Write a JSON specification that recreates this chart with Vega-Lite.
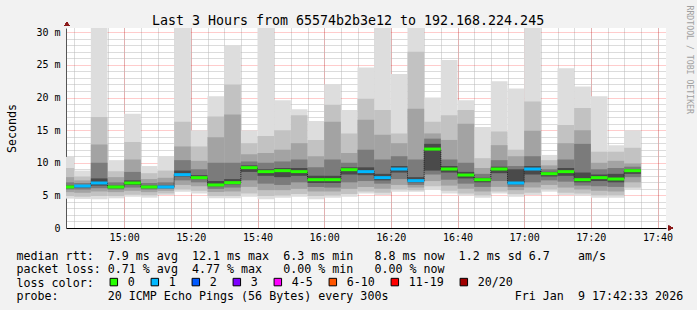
{
  "$schema": "https://vega.github.io/schema/vega-lite/v6.json",
  "width": 600,
  "height": 200,
  "autosize": {"type": "none"},
  "padding": {"left": 66, "top": 28, "right": 31, "bottom": 82},
  "background": "#f2f2f2",
  "data": {"values": [
    {"t":"2026-01-09T14:40:00Z","e":"2026-01-09T14:45:00Z","med":6.29,"loss":"0","a0":4.5,"a1":4.9,"a2":5.5,"a3":5.9,"a4":6.1,"b4":6.5,"b3":7.0,"b2":7.8,"b1":9.2,"b0":10.9},
    {"t":"2026-01-09T14:45:00Z","e":"2026-01-09T14:50:00Z","med":6.44,"loss":"1","a0":4.45,"a1":4.8,"a2":5.4,"a3":5.9,"a4":6.2,"b4":6.6,"b3":6.9,"b2":7.3,"b1":7.9,"b0":8.8},
    {"t":"2026-01-09T14:50:00Z","e":"2026-01-09T14:55:00Z","med":6.9,"loss":"1","a0":4.4,"a1":4.9,"a2":5.6,"a3":6.1,"a4":6.5,"b4":7.6,"b3":10.0,"b2":12.8,"b1":17.0,"b0":32},
    {"t":"2026-01-09T14:55:00Z","e":"2026-01-09T15:00:00Z","med":6.29,"loss":"0","a0":4.55,"a1":4.9,"a2":5.5,"a3":5.9,"a4":6.1,"b4":6.5,"b3":7.0,"b2":7.8,"b1":8.7,"b0":10.4},
    {"t":"2026-01-09T15:00:00Z","e":"2026-01-09T15:05:00Z","med":6.9,"loss":"0","a0":4.8,"a1":5.1,"a2":5.7,"a3":6.2,"a4":6.6,"b4":7.3,"b3":8.6,"b2":10.5,"b1":13.2,"b0":17.5},
    {"t":"2026-01-09T15:05:00Z","e":"2026-01-09T15:10:00Z","med":6.29,"loss":"0","a0":4.65,"a1":5.0,"a2":5.5,"a3":5.9,"a4":6.1,"b4":6.5,"b3":6.9,"b2":7.5,"b1":8.4,"b0":9.5},
    {"t":"2026-01-09T15:10:00Z","e":"2026-01-09T15:15:00Z","med":6.29,"loss":"1","a0":5.06,"a1":5.3,"a2":5.7,"a3":6.0,"a4":6.15,"b4":6.5,"b3":7.0,"b2":7.7,"b1":8.8,"b0":11.0},
    {"t":"2026-01-09T15:15:00Z","e":"2026-01-09T15:20:00Z","med":8.18,"loss":"1","a0":5.57,"a1":5.9,"a2":6.6,"a3":7.3,"a4":7.9,"b4":8.8,"b3":10.4,"b2":12.5,"b1":16.3,"b0":32},
    {"t":"2026-01-09T15:20:00Z","e":"2026-01-09T15:25:00Z","med":7.72,"loss":"0","a0":5.3,"a1":5.7,"a2":6.4,"a3":7.0,"a4":7.5,"b4":8.1,"b3":9.0,"b2":10.3,"b1":12.5,"b0":15.0},
    {"t":"2026-01-09T15:25:00Z","e":"2026-01-09T15:30:00Z","med":6.6,"loss":"0","a0":4.55,"a1":4.9,"a2":5.5,"a3":6.0,"a4":6.4,"b4":7.2,"b3":10.0,"b2":13.9,"b1":17.1,"b0":20.2},
    {"t":"2026-01-09T15:30:00Z","e":"2026-01-09T15:35:00Z","med":6.95,"loss":"0","a0":4.55,"a1":4.9,"a2":5.6,"a3":6.2,"a4":6.7,"b4":7.5,"b3":10.0,"b2":17.4,"b1":22.0,"b0":27.95},
    {"t":"2026-01-09T15:35:00Z","e":"2026-01-09T15:40:00Z","med":9.25,"loss":"0","a0":4.8,"a1":5.3,"a2":6.3,"a3":7.3,"a4":8.6,"b4":9.6,"b3":10.2,"b2":11.3,"b1":13.0,"b0":15.0},
    {"t":"2026-01-09T15:40:00Z","e":"2026-01-09T15:45:00Z","med":8.64,"loss":"0","a0":4.4,"a1":4.9,"a2":5.8,"a3":6.8,"a4":8.0,"b4":9.0,"b3":10.0,"b2":11.5,"b1":14.1,"b0":32},
    {"t":"2026-01-09T15:45:00Z","e":"2026-01-09T15:50:00Z","med":8.79,"loss":"0","a0":4.65,"a1":5.0,"a2":5.8,"a3":6.6,"a4":7.8,"b4":9.2,"b3":10.2,"b2":12.0,"b1":15.0,"b0":19.6},
    {"t":"2026-01-09T15:50:00Z","e":"2026-01-09T15:55:00Z","med":8.64,"loss":"0","a0":4.8,"a1":5.2,"a2":6.0,"a3":7.0,"a4":8.0,"b4":9.2,"b3":10.5,"b2":13.0,"b1":17.3,"b0":18.2},
    {"t":"2026-01-09T15:55:00Z","e":"2026-01-09T16:00:00Z","med":7.41,"loss":"0","a0":4.4,"a1":4.9,"a2":5.6,"a3":6.3,"a4":6.9,"b4":8.0,"b3":9.3,"b2":11.0,"b1":13.5,"b0":16.4},
    {"t":"2026-01-09T16:00:00Z","e":"2026-01-09T16:05:00Z","med":7.41,"loss":"0","a0":4.65,"a1":5.0,"a2":5.6,"a3":6.2,"a4":6.9,"b4":8.0,"b3":10.5,"b2":16.3,"b1":18.9,"b0":22.0},
    {"t":"2026-01-09T16:05:00Z","e":"2026-01-09T16:10:00Z","med":8.94,"loss":"0","a0":4.8,"a1":5.2,"a2":6.0,"a3":7.0,"a4":8.2,"b4":9.3,"b3":10.0,"b2":11.5,"b1":14.5,"b0":18.1},
    {"t":"2026-01-09T16:10:00Z","e":"2026-01-09T16:15:00Z","med":8.64,"loss":"1","a0":5.3,"a1":5.6,"a2":6.3,"a3":7.2,"a4":8.1,"b4":9.3,"b3":12.0,"b2":16.6,"b1":19.8,"b0":24.6},
    {"t":"2026-01-09T16:15:00Z","e":"2026-01-09T16:20:00Z","med":7.72,"loss":"1","a0":5.06,"a1":5.4,"a2":6.0,"a3":6.8,"a4":7.3,"b4":8.3,"b3":10.5,"b2":14.3,"b1":18.1,"b0":32},
    {"t":"2026-01-09T16:20:00Z","e":"2026-01-09T16:25:00Z","med":9.04,"loss":"1","a0":5.57,"a1":5.9,"a2":6.6,"a3":7.5,"a4":8.5,"b4":9.5,"b3":11.0,"b2":13.0,"b1":14.5,"b0":23.6},
    {"t":"2026-01-09T16:25:00Z","e":"2026-01-09T16:30:00Z","med":7.26,"loss":"1","a0":5.57,"a1":5.8,"a2":6.2,"a3":6.6,"a4":7.0,"b4":7.8,"b3":10.5,"b2":18.3,"b1":27.0,"b0":32},
    {"t":"2026-01-09T16:30:00Z","e":"2026-01-09T16:35:00Z","med":12.1,"loss":"0","a0":5.93,"a1":6.4,"a2":7.2,"a3":8.2,"a4":8.8,"b4":12.9,"b3":13.7,"b2":14.5,"b1":16.3,"b0":20.0},
    {"t":"2026-01-09T16:35:00Z","e":"2026-01-09T16:40:00Z","med":9.04,"loss":"0","a0":5.3,"a1":5.7,"a2":6.5,"a3":7.4,"a4":8.5,"b4":9.5,"b3":10.5,"b2":13.5,"b1":17.3,"b0":25.75},
    {"t":"2026-01-09T16:40:00Z","e":"2026-01-09T16:45:00Z","med":8.12,"loss":"0","a0":4.96,"a1":5.3,"a2":6.0,"a3":6.8,"a4":7.6,"b4":8.6,"b3":10.0,"b2":16.0,"b1":18.1,"b0":19.6},
    {"t":"2026-01-09T16:45:00Z","e":"2026-01-09T16:50:00Z","med":7.41,"loss":"0","a0":4.65,"a1":5.0,"a2":5.6,"a3":6.3,"a4":7.0,"b4":7.7,"b3":8.3,"b2":9.2,"b1":10.7,"b0":15.5},
    {"t":"2026-01-09T16:50:00Z","e":"2026-01-09T16:55:00Z","med":9.04,"loss":"0","a0":5.3,"a1":5.6,"a2":6.3,"a3":7.2,"a4":8.4,"b4":9.4,"b3":10.4,"b2":12.7,"b1":14.8,"b0":22.5},
    {"t":"2026-01-09T16:55:00Z","e":"2026-01-09T17:00:00Z","med":6.9,"loss":"1","a0":4.8,"a1":5.2,"a2":5.8,"a3":6.3,"a4":6.7,"b4":9.0,"b3":9.5,"b2":11.0,"b1":12.0,"b0":21.4},
    {"t":"2026-01-09T17:00:00Z","e":"2026-01-09T17:05:00Z","med":9.04,"loss":"1","a0":5.06,"a1":5.4,"a2":6.2,"a3":7.0,"a4":8.2,"b4":9.5,"b3":11.0,"b2":14.9,"b1":19.4,"b0":32},
    {"t":"2026-01-09T17:05:00Z","e":"2026-01-09T17:10:00Z","med":8.33,"loss":"0","a0":5.57,"a1":5.9,"a2":6.6,"a3":7.3,"a4":7.9,"b4":8.6,"b3":9.0,"b2":9.6,"b1":10.4,"b0":11.2},
    {"t":"2026-01-09T17:10:00Z","e":"2026-01-09T17:15:00Z","med":8.64,"loss":"0","a0":5.06,"a1":5.4,"a2":6.2,"a3":7.1,"a4":8.0,"b4":9.2,"b3":10.5,"b2":13.0,"b1":15.8,"b0":24.5},
    {"t":"2026-01-09T17:15:00Z","e":"2026-01-09T17:20:00Z","med":7.41,"loss":"0","a0":4.96,"a1":5.3,"a2":5.9,"a3":6.5,"a4":7.0,"b4":8.5,"b3":12.9,"b2":15.0,"b1":18.4,"b0":21.7},
    {"t":"2026-01-09T17:20:00Z","e":"2026-01-09T17:25:00Z","med":7.72,"loss":"0","a0":4.65,"a1":5.0,"a2":5.7,"a3":6.4,"a4":7.2,"b4":8.2,"b3":9.0,"b2":10.0,"b1":11.7,"b0":20.2},
    {"t":"2026-01-09T17:25:00Z","e":"2026-01-09T17:30:00Z","med":7.51,"loss":"0","a0":4.65,"a1":5.0,"a2":5.6,"a3":6.3,"a4":7.0,"b4":8.3,"b3":9.2,"b2":10.3,"b1":11.7,"b0":12.7},
    {"t":"2026-01-09T17:30:00Z","e":"2026-01-09T17:35:00Z","med":8.79,"loss":"0","a0":5.93,"a1":6.2,"a2":7.0,"a3":7.8,"a4":8.3,"b4":9.0,"b3":9.4,"b2":9.9,"b1":12.3,"b0":15.0}
  ]},
  "layer": [
    {
      "mark": {"type": "rect", "color": "#dddddd", "clip": true},
      "encoding": {
        "x": {"field": "t", "type": "temporal",
              "scale": {"type": "utc", "nice": false, "domain": [1767969753000, 1767980553000]},
              "axis": {"orient": "bottom", "grid": true, "gridColor": "#b8b8b8", "gridDash": [1, 1], "labels": false, "domain": false, "ticks": false, "title": null,
                       "values": [1767969900000,1767970200000,1767970500000,1767970800000,1767971100000,1767971400000,1767971700000,1767972000000,1767972300000,1767972600000,1767972900000,1767973200000,1767973500000,1767973800000,1767974100000,1767974400000,1767974700000,1767975000000,1767975300000,1767975600000,1767975900000,1767976200000,1767976500000,1767976800000,1767977100000,1767977400000,1767977700000,1767978000000,1767978300000,1767978600000,1767978900000,1767979200000,1767979500000,1767979800000,1767980100000,1767980400000]}},
        "x2": {"field": "e"},
        "y": {"field": "a0", "type": "quantitative", "scale": {"domain": [0, 30.66], "nice": false, "zero": false},
              "axis": {"orient": "left", "grid": true, "gridColor": "#b8b8b8", "gridDash": [1, 1], "labels": false, "domain": false, "ticks": false, "title": null, "values": [1,2,3,4,6,7,8,9,11,12,13,14,16,17,18,19,21,22,23,24,26,27,28,29]}},
        "y2": {"field": "b0"}
      }
    },
    {
      "mark": {"type": "rect", "color": "#c2c2c2", "clip": true},
      "encoding": {
        "x": {"field": "t", "type": "temporal", "axis": null},
        "x2": {"field": "e"},
        "y": {"field": "a1", "type": "quantitative", "axis": null},
        "y2": {"field": "b1"}
      }
    },
    {
      "mark": {"type": "rect", "color": "#a3a3a3", "clip": true},
      "encoding": {
        "x": {"field": "t", "type": "temporal", "axis": null},
        "x2": {"field": "e"},
        "y": {"field": "a2", "type": "quantitative", "axis": null},
        "y2": {"field": "b2"}
      }
    },
    {
      "mark": {"type": "rect", "color": "#7b7b7b", "clip": true},
      "encoding": {
        "x": {"field": "t", "type": "temporal", "axis": null},
        "x2": {"field": "e"},
        "y": {"field": "a3", "type": "quantitative", "axis": null},
        "y2": {"field": "b3"}
      }
    },
    {
      "mark": {"type": "rect", "color": "#4a4a4a", "clip": true},
      "encoding": {
        "x": {"field": "t", "type": "temporal", "axis": null},
        "x2": {"field": "e"},
        "y": {"field": "a4", "type": "quantitative", "axis": null},
        "y2": {"field": "b4"}
      }
    },
    {
      "mark": {"type": "line", "interpolate": "step-after", "strokeDash": [1, 1], "color": "#1a1a1a", "strokeWidth": 1, "clip": true},
      "encoding": {
        "x": {"field": "t", "type": "temporal",
              "axis": {"orient": "bottom", "values": [1767970800000,1767972000000,1767973200000,1767974400000,1767975600000,1767976800000,1767978000000,1767979200000,1767980400000],
                       "labelExpr": "utcFormat(datum.value, '%H:%M')",
                       "grid": true, "gridColor": "#ff0000", "gridOpacity": 0.4, "gridDash": [1, 1],
                       "domain": true, "domainColor": "#000000", "labelPadding": 4,
                       "title": ["median rtt:\u00a0\u00a07.9 ms avg\u00a0\u00a012.1 ms max\u00a0\u00a06.3 ms min\u00a0\u00a0\u00a08.8 ms now\u00a0\u00a01.2 ms sd 6.7\u00a0\u00a0\u00a0\u00a0am/s",
                                 "packet loss: 0.71 % avg\u00a0\u00a04.77 % max\u00a0\u00a0\u00a00.00 % min\u00a0\u00a0\u00a00.00 % now",
                                 "loss color:",
                                 "probe:\u00a0\u00a0\u00a0\u00a0\u00a0\u00a0\u00a020 ICMP Echo Pings (56 Bytes) every 300s\u00a0\u00a0\u00a0\u00a0\u00a0\u00a0\u00a0\u00a0\u00a0\u00a0\u00a0\u00a0\u00a0\u00a0\u00a0\u00a0\u00a0\u00a0Fri Jan\u00a0\u00a09 17:42:33 2026"],
                       "titleX": -50, "titleY": 31, "titleAlign": "left", "titleBaseline": "alphabetic", "titleFontSize": 11.67, "titleLineHeight": 13.6}},
        "y": {"field": "med", "type": "quantitative",
              "axis": {"orient": "left", "values": [0, 5, 10, 15, 20, 25, 30],
                       "grid": true, "gridColor": "#ff0000", "gridOpacity": 0.4, "gridDash": [1, 1],
                       "domain": true, "domainColor": "#555555", "labelPadding": 6,
                       "labelExpr": "datum.value == 0 ? '\u00a00\u00a0\u00a0' : (datum.value < 10 ? '\u00a0' : '') + datum.value + ' m'",
                       "title": "Seconds", "titleX": -55, "titleY": 100, "titleAngle": -90, "titleAlign": "center", "titleBaseline": "middle", "titleFontSize": 11.67}}
      }
    },
    {
      "mark": {"type": "rule", "strokeWidth": 3, "clip": true},
      "encoding": {
        "x": {"field": "t", "type": "temporal",
              "axis": {"orient": "top", "grid": false, "labels": false, "domain": false, "ticks": false,
                       "title": "Last 3 Hours from 65574b2b3e12 to 192.168.224.245",
                       "titleX": 281.5, "titleY": -4, "titleAlign": "center", "titleBaseline": "alphabetic", "titleFontSize": 13.3, "titleAngle": 0}},
        "x2": {"field": "e"},
        "y": {"field": "med", "type": "quantitative",
              "axis": {"orient": "right", "grid": false, "labels": false, "domain": false, "ticks": false,
                       "title": "RRDTOOL / TOBI OETIKER", "titleX": 22.5, "titleY": -23, "titleAngle": 90,
                       "titleAlign": "left", "titleBaseline": "middle", "titleFontSize": 8.2, "titleColor": "#a0a0a0"}},
        "stroke": {"field": "loss", "type": "nominal",
                   "scale": {"domain": ["0", "1"], "range": ["#26ff00", "#00b8ff"]},
                   "legend": null}
      }
    },
    {
      "mark": {"type": "square", "opacity": 0},
      "encoding": {
        "x": {"field": "t", "type": "temporal", "axis": null},
        "y": {"field": "med", "type": "quantitative", "axis": null},
        "fill": {"field": "loss", "type": "nominal",
                 "scale": {"domain": ["0", "1", "2", "3", "4-5", "6-10", "11-19", "20/20"],
                           "range": ["#26ff00", "#00b8ff", "#0059ff", "#7e00ff", "#ff00ff", "#ff5500", "#ff0000", "#a10000"]},
                 "legend": {"orient": "none", "legendX": 42, "legendY": 248, "direction": "horizontal",
                            "title": null, "symbolType": "square", "symbolSize": 56, "symbolStrokeColor": "#000000",
                            "symbolStrokeWidth": 1, "symbolOpacity": 1, "labelFont": "DejaVu Sans Mono", "labelFontSize": 11.67,
                            "labelColor": "#000000", "labelOffset": 8, "columnPadding": 14, "padding": 0}}
      }
    },
    {
      "mark": {"type": "point", "shape": "triangle-up", "filled": true, "color": "#8b1a1a", "size": 22, "opacity": 1},
      "encoding": {
        "x": {"datum": 1767969770000, "type": "temporal", "axis": null},
        "y": {"datum": 31.27, "type": "quantitative", "axis": null}
      }
    },
    {
      "mark": {"type": "point", "shape": "triangle-right", "filled": true, "color": "#8b1a1a", "size": 22, "opacity": 1},
      "encoding": {
        "x": {"datum": 1767980640000, "type": "temporal", "axis": null},
        "y": {"datum": 0, "type": "quantitative", "axis": null}
      }
    }
  ],
  "resolve": {"axis": {"x": "independent", "y": "independent"}},
  "config": {
    "view": {"fill": "#ffffff", "stroke": null},
    "font": "DejaVu Sans Mono",
    "axis": {"zindex": 1, "ticks": false, "tickSize": 0, "labelFont": "DejaVu Sans Mono", "labelFontSize": 10, "labelColor": "#000000",
             "titleFont": "DejaVu Sans Mono", "titleFontWeight": "normal", "titleColor": "#000000", "labelFlush": false, "labelOverlap": false, "domainWidth": 1}
  }
}
